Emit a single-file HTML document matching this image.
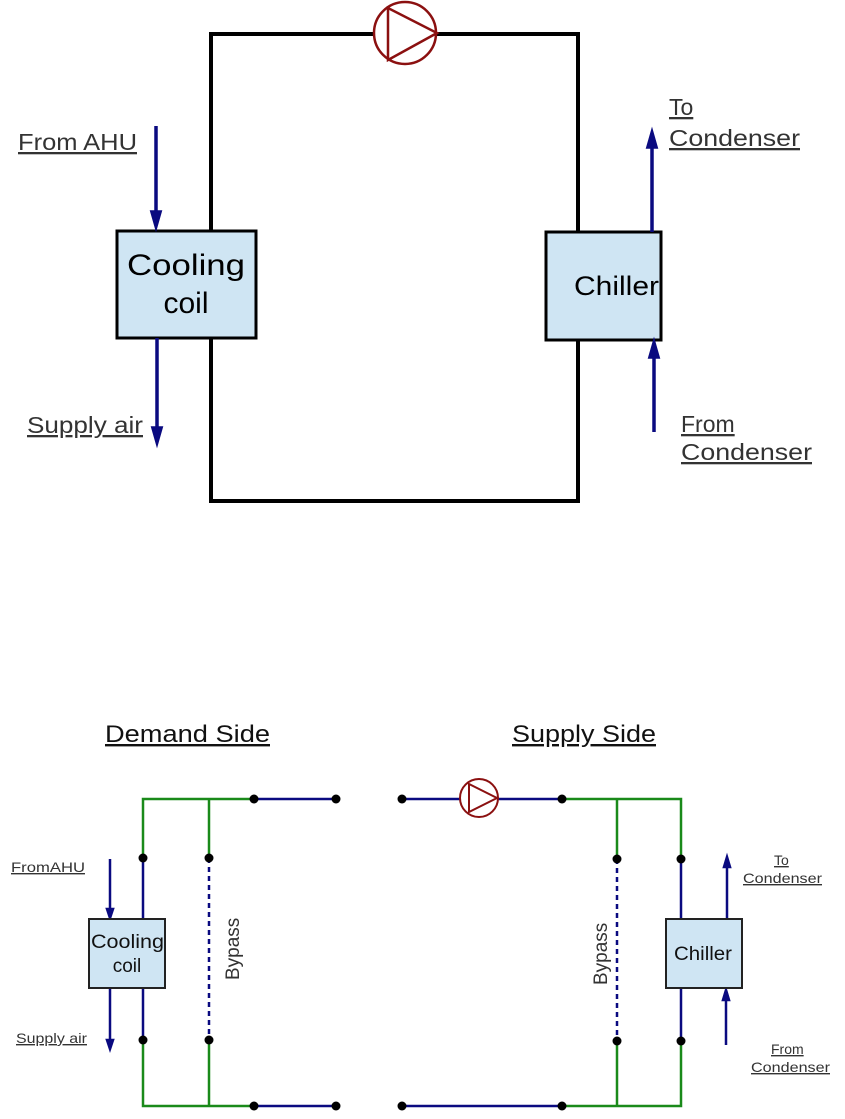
<!DOCTYPE html>
<html><head><style>
html,body{margin:0;padding:0;background:#fff;}
svg text{font-family:"Liberation Sans",sans-serif;}
</style></head><body>
<svg width="845" height="1114" viewBox="0 0 845 1114" xmlns="http://www.w3.org/2000/svg">
<!-- TOP DIAGRAM -->
<g stroke="#000" stroke-width="4" fill="none">
<polyline points="211,230 211,34 374,34"/>
<polyline points="436,34 578,34 578,232"/>
<polyline points="211,338 211,501 578,501 578,340"/>
</g>
<circle cx="405" cy="33" r="31" fill="#fff" stroke="#8b1010" stroke-width="2.5"/>
<polygon points="388,8 388,60 437,33" fill="none" stroke="#8b1010" stroke-width="2.5"/>
<rect x="117" y="231" width="139" height="107" fill="#cfe5f3" stroke="#000" stroke-width="3"/>
<text x="127" y="275" font-size="30" textLength="118" lengthAdjust="spacingAndGlyphs" fill="#000">Cooling</text>
<text x="186" y="313" font-size="30" text-anchor="middle" fill="#000">coil</text>
<rect x="546" y="232" width="115" height="108" fill="#cfe5f3" stroke="#000" stroke-width="3"/>
<text x="574" y="295" font-size="27" textLength="85" lengthAdjust="spacingAndGlyphs" fill="#000">Chiller</text>
<g stroke="#0a0a80" stroke-width="3.5" fill="#0a0a80">
<line x1="156" y1="126" x2="156" y2="215"/><polygon points="152,212 160,212 156,226"/>
<line x1="157" y1="338" x2="157" y2="430"/><polygon points="153,428 161,428 157,442"/>
<line x1="652" y1="232" x2="652" y2="145"/><polygon points="648,147 656,147 652,133"/>
<line x1="654" y1="432" x2="654" y2="355"/><polygon points="650,357 658,357 654,343"/>
</g>
<g fill="#333" font-size="23" text-decoration="underline">
<text x="18" y="150" textLength="119" lengthAdjust="spacingAndGlyphs">From AHU</text>
<text x="27" y="433" textLength="116" lengthAdjust="spacingAndGlyphs">Supply air</text>
<text x="669" y="115">To </text>
<text x="669" y="146" textLength="131" lengthAdjust="spacingAndGlyphs">Condenser</text>
<text x="681" y="432">From </text>
<text x="681" y="460" textLength="131" lengthAdjust="spacingAndGlyphs">Condenser</text>
</g>
<!-- BOTTOM DIAGRAM -->
<g fill="#111" font-size="24" text-decoration="underline">
<text x="105" y="742" textLength="165" lengthAdjust="spacingAndGlyphs">Demand Side</text>
<text x="512" y="742" textLength="144" lengthAdjust="spacingAndGlyphs">Supply Side</text>
</g>
<g stroke="#1a8a1a" stroke-width="2.5" fill="none">
<polyline points="143,858 143,799 254,799"/>
<line x1="209" y1="799" x2="209" y2="858"/>
<polyline points="143,1040 143,1106 254,1106"/>
<line x1="209" y1="1040" x2="209" y2="1106"/>
<polyline points="562,799 681,799 681,859"/>
<line x1="617" y1="799" x2="617" y2="859"/>
<polyline points="562,1106 681,1106 681,1041"/>
<line x1="617" y1="1041" x2="617" y2="1106"/>
</g>
<g stroke="#0a0a80" stroke-width="2.5" fill="none">
<line x1="254" y1="799" x2="336" y2="799"/>
<line x1="254" y1="1106" x2="336" y2="1106"/>
<line x1="402" y1="799" x2="460" y2="799"/>
<line x1="498" y1="799" x2="562" y2="799"/>
<line x1="402" y1="1106" x2="562" y2="1106"/>
<line x1="143" y1="858" x2="143" y2="919"/>
<line x1="143" y1="988" x2="143" y2="1040"/>
<line x1="681" y1="859" x2="681" y2="919"/>
<line x1="681" y1="988" x2="681" y2="1041"/>
<line x1="209" y1="858" x2="209" y2="1040" stroke-dasharray="5,4"/>
<line x1="617" y1="859" x2="617" y2="1041" stroke-dasharray="5,4"/>
</g>
<g stroke="#0a0a80" stroke-width="2.5" fill="#0a0a80">
<line x1="110" y1="859" x2="110" y2="910"/><polygon points="107,909 113,909 110,918"/>
<line x1="110" y1="988" x2="110" y2="1040"/><polygon points="107,1040 113,1040 110,1049"/>
<line x1="727" y1="919" x2="727" y2="866"/><polygon points="724,867 730,867 727,857"/>
<line x1="726" y1="1045" x2="726" y2="1000"/><polygon points="723,1000 729,1000 726,990"/>
</g>
<circle cx="479" cy="798" r="19" fill="#fff" stroke="#8b1010" stroke-width="2"/>
<polygon points="469,784 469,812 497,798" fill="none" stroke="#8b1010" stroke-width="2"/>
<g fill="#000">
<circle cx="254" cy="799" r="4.5"/><circle cx="336" cy="799" r="4.5"/>
<circle cx="254" cy="1106" r="4.5"/><circle cx="336" cy="1106" r="4.5"/>
<circle cx="402" cy="799" r="4.5"/><circle cx="562" cy="799" r="4.5"/>
<circle cx="402" cy="1106" r="4.5"/><circle cx="562" cy="1106" r="4.5"/>
<circle cx="143" cy="858" r="4.5"/><circle cx="209" cy="858" r="4.5"/>
<circle cx="143" cy="1040" r="4.5"/><circle cx="209" cy="1040" r="4.5"/>
<circle cx="617" cy="859" r="4.5"/><circle cx="681" cy="859" r="4.5"/>
<circle cx="617" cy="1041" r="4.5"/><circle cx="681" cy="1041" r="4.5"/>
</g>
<rect x="89" y="919" width="76" height="69" fill="#cfe5f3" stroke="#222" stroke-width="2"/>
<text x="91" y="948" font-size="19" textLength="73" lengthAdjust="spacingAndGlyphs" fill="#111">Cooling</text>
<text x="127" y="972" font-size="19" text-anchor="middle" fill="#111">coil</text>
<rect x="666" y="919" width="76" height="69" fill="#cfe5f3" stroke="#222" stroke-width="2"/>
<text x="674" y="960" font-size="19" textLength="58" lengthAdjust="spacingAndGlyphs" fill="#111">Chiller</text>
<text transform="translate(239,980) rotate(-90)" font-size="19" fill="#333">Bypass</text>
<text transform="translate(607,985) rotate(-90)" font-size="19" fill="#333">Bypass</text>
<g fill="#333" font-size="14" text-decoration="underline">
<text x="11" y="872" textLength="74" lengthAdjust="spacingAndGlyphs">FromAHU</text>
<text x="16" y="1043" textLength="71" lengthAdjust="spacingAndGlyphs">Supply air</text>
<text x="774" y="865">To</text>
<text x="743" y="883" textLength="79" lengthAdjust="spacingAndGlyphs">Condenser</text>
<text x="771" y="1054">From</text>
<text x="751" y="1072" textLength="79" lengthAdjust="spacingAndGlyphs">Condenser</text>
</g>
</svg>
</body></html>
